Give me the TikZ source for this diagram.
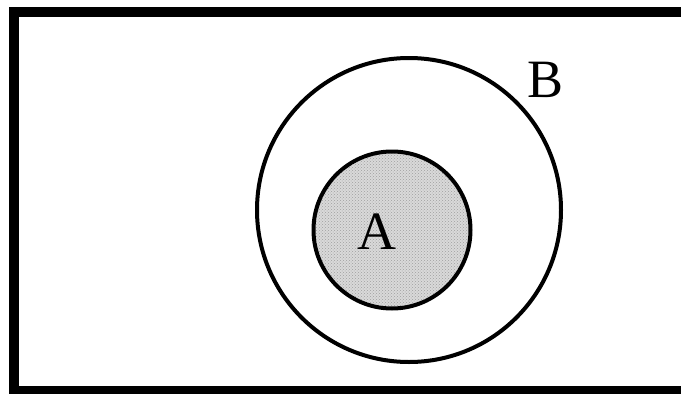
\documentclass[tikz,border=0pt]{standalone}
\usepackage{fontspec}
\setmainfont{Liberation Serif}
\usetikzlibrary{patterns}
\begin{document}
\begin{tikzpicture}[x=1pt,y=-1pt,
  setline/.style={line width=4pt,draw=black},
  lbl/.style={font=\fontsize{54}{54}\selectfont,inner sep=0pt}]
\useasboundingbox (0,0) rectangle (681,394);
\clip (0,0) rectangle (681,394);
\draw[line width=10pt] (14,12) rectangle (700,391);
\node[setline,circle,minimum size=304pt,inner sep=0pt] (B) at (409,210) {};
\node[setline,circle,minimum size=157pt,inner sep=0pt,fill=gray!30] (A) at (392,230) {};
\fill[pattern=crosshatch dots,pattern color=gray!75] (392,230) circle (76.5pt);
\node[lbl] (la) at (377,232) {A};
\node[lbl] (lb) at (546,80) {B};
\end{tikzpicture}
\end{document}
